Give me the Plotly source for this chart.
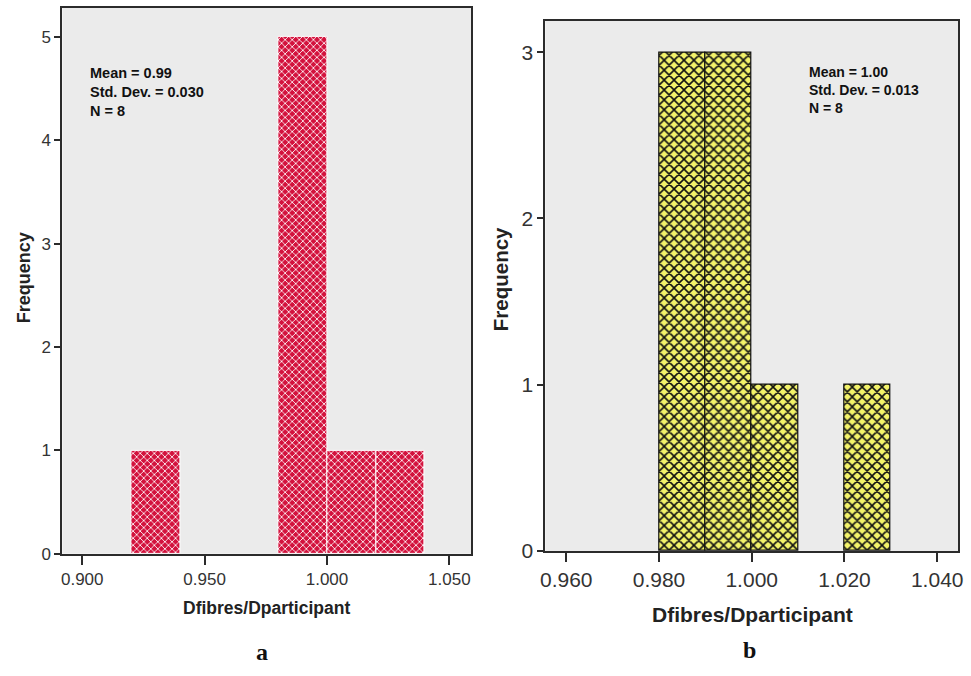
import plotly.graph_objects as go

# Panel a data
a_centers = [0.93, 0.99, 1.01, 1.03]
a_counts = [1, 5, 1, 1]
a_width = 0.02
a_stats = ["Mean = 0.99", "Std. Dev. = 0.030", "N = 8"]
a_xticks = [0.900, 0.950, 1.000, 1.050]
a_yticks = [0, 1, 2, 3, 4, 5]

# Panel b data
b_centers = [0.985, 0.995, 1.005, 1.025]
b_counts = [3, 3, 1, 1]
b_width = 0.01
b_stats = ["Mean = 1.00", "Std. Dev. = 0.013", "N = 8"]
b_xticks = [0.960, 0.980, 1.000, 1.020, 1.040]
b_yticks = [0, 1, 2, 3]

x_title = "Dfibres/Dparticipant"
y_title = "Frequency"
panel_labels = ["a", "b"]

W, H = 971, 676
FONT = "Liberation Sans, Arial, sans-serif"
SERIF = "Liberation Serif, Times New Roman, serif"
LINE = "#2b2b2b"
BG = "#ebebeb"

fig = go.Figure()
fig.add_trace(go.Bar(
    x=a_centers, y=a_counts, width=[a_width] * len(a_centers),
    marker=dict(color="#d3123d", line=dict(color="white", width=1),
                pattern=dict(shape="x", fgcolor="white", bgcolor="#d3123d",
                             size=5, solidity=0.3, fillmode="replace")),
    xaxis="x", yaxis="y", showlegend=False, hoverinfo="x+y"))
fig.add_trace(go.Bar(
    x=b_centers, y=b_counts, width=[b_width] * len(b_centers),
    marker=dict(color="#f3f36a", line=dict(color="#111", width=1.2),
                pattern=dict(shape="x", fgcolor="#111", bgcolor="#f3f36a",
                             size=7, solidity=0.4, fillmode="replace")),
    xaxis="x2", yaxis="y2", showlegend=False, hoverinfo="x+y"))


def px_x(p):
    return p / W


def px_y(p):
    return 1 - p / H


axis_common = dict(showline=True, linecolor=LINE, linewidth=2, mirror=True,
                   showgrid=False, zeroline=False, ticks="outside",
                   tickcolor=LINE, tickwidth=1.5)

fig.update_layout(
    width=W, height=H, margin=dict(l=0, r=0, t=0, b=0),
    paper_bgcolor="white", plot_bgcolor="rgba(0,0,0,0)", bargap=0,
    xaxis=dict(domain=[px_x(58), px_x(471)], range=[0.8919, 1.0589],
               tickvals=a_xticks, tickformat=".3f", ticklen=9,
               tickfont=dict(family=FONT, size=17, color="#333"),
               anchor="y", **axis_common),
    yaxis=dict(domain=[px_y(563), px_y(8)], range=[0, 5.28],
               tickvals=a_yticks, ticklen=6,
               tickfont=dict(family=FONT, size=17, color="#333"),
               anchor="x", **axis_common),
    xaxis2=dict(domain=[px_x(546), px_x(963)], range=[0.9555, 1.0445],
                tickvals=b_xticks, tickformat=".3f", ticklen=9,
                ticklabeloverflow="allow",
                tickfont=dict(family=FONT, size=21, color="#333"),
                anchor="y2", **axis_common),
    yaxis2=dict(domain=[px_y(560), px_y(21)], range=[0, 3.19],
                tickvals=b_yticks, ticklen=6,
                tickfont=dict(family=FONT, size=21, color="#333"),
                anchor="x2", **axis_common),
)

# plot backgrounds (gray) for each panel
fig.add_shape(type="rect", xref="x domain", yref="y domain", x0=0, x1=1, y0=0, y1=1,
              fillcolor=BG, line=dict(width=0), layer="below")
fig.add_shape(type="rect", xref="x2 domain", yref="y2 domain", x0=0, x1=1, y0=0, y1=1,
              fillcolor=BG, line=dict(width=0), layer="below")


def note(text, x, y, size, family=FONT, angle=0, xanchor="center", yanchor="middle",
         color="#222"):
    fig.add_annotation(text=text, xref="paper", yref="paper", x=px_x(x), y=px_y(y),
                       xanchor=xanchor, yanchor=yanchor, align="left", showarrow=False,
                       textangle=angle, font=dict(family=family, size=size, color=color))


# axis titles
note("<b>" + x_title + "</b>", 264, 618, 17.5)
note("<b>" + x_title + "</b>", 755, 625, 21)
note("<b>" + y_title + "</b>", 20, 282, 18, angle=-90)
note("<b>" + y_title + "</b>", 501, 284, 20.5, angle=-90)

# stats annotations
note("<br>".join("<b>" + t + "</b>" for t in a_stats), 84, 64, 14.5,
     xanchor="left", yanchor="top", color="#111")
note("<br>".join("<b>" + t + "</b>" for t in b_stats), 810, 63, 14,
     xanchor="left", yanchor="top", color="#111")

# panel labels
note("<b>" + panel_labels[0] + "</b>", 260, 663, 24, family=SERIF, color="#111")
note("<b>" + panel_labels[1] + "</b>", 752, 661, 24, family=SERIF, color="#111")

fig.write_html("out.html", config={"displayModeBar": False},
               post_script="document.body.style.margin='0';document.body.style.overflow='hidden';")
